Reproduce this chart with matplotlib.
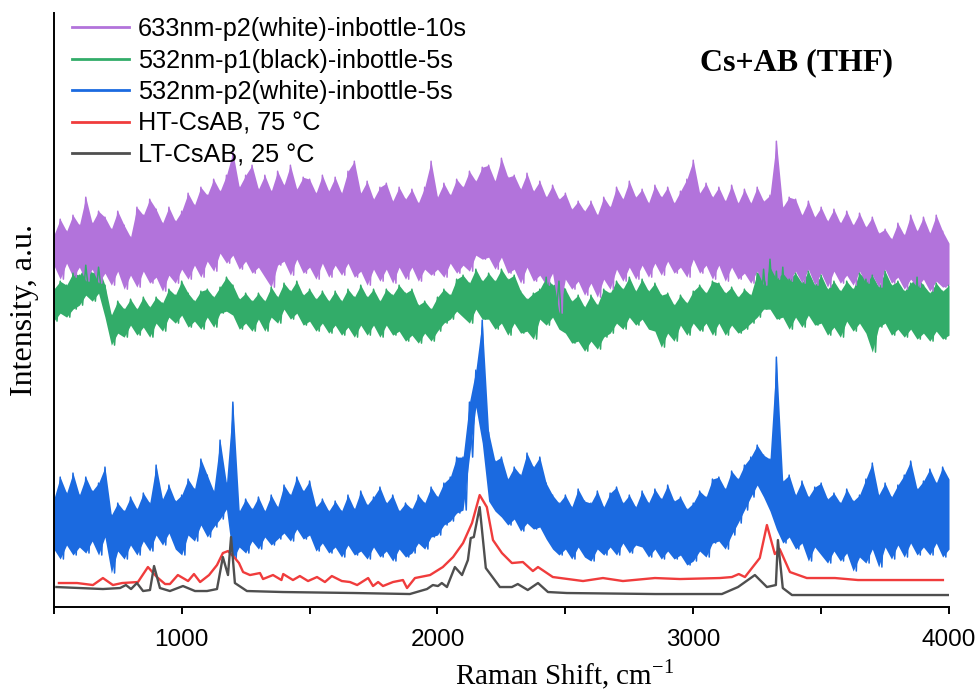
import numpy as np
import matplotlib
matplotlib.use('Agg')
import matplotlib.pyplot as plt
from matplotlib.ticker import MultipleLocator

plt.rcParams['font.family'] = 'Liberation Sans'
plt.rcParams['mathtext.fontset'] = 'custom'
plt.rcParams['mathtext.rm'] = 'Liberation Serif'

# noisy spectra: band top (hi) and bottom (lo) read every 25 cm-1
step = 25
shift = np.arange(500, 4001, step)

blue_hi = [108, 130, 114, 134, 112, 130, 116, 124, 140, 92, 104, 96,
           110, 98, 114, 104, 142, 108, 122, 106, 112, 128, 118, 148,
           132, 116, 167, 124, 205, 96, 108, 98, 110, 96, 112, 100,
           122, 112, 130, 116, 126, 100, 108, 96, 106, 96, 112, 98,
           116, 102, 110, 120, 104, 112, 96, 104, 98, 112, 104, 120,
           110, 124, 130, 150, 150, 205, 237, 287, 175, 146, 150, 128,
           140, 132, 154, 140, 150, 124, 112, 104, 112, 100, 118, 106,
           104, 116, 100, 114, 120, 104, 112, 100, 116, 104, 118, 108,
           122, 106, 110, 98, 104, 116, 110, 128, 130, 118, 136, 128,
           142, 150, 162, 152, 148, 250, 126, 132, 112, 126, 110, 120,
           124, 108, 114, 104, 118, 106, 112, 128, 144, 112, 124, 110,
           122, 132, 146, 118, 126, 138, 124, 140, 128]
blue_lo = [58, 48, 62, 52, 60, 54, 66, 52, 70, 34, 56, 48,
           62, 52, 66, 56, 72, 62, 74, 58, 52, 72, 66, 82,
           70, 80, 88, 98, 48, 60, 54, 66, 58, 70, 62, 68,
           74, 66, 78, 68, 72, 56, 64, 54, 60, 50, 62, 52,
           56, 48, 60, 50, 56, 46, 58, 50, 54, 64, 58, 70,
           72, 82, 86, 94, 97, 150, 200, 164, 106, 96, 90, 82,
           88, 76, 84, 78, 80, 68, 58, 52, 58, 48, 60, 50,
           46, 58, 52, 60, 52, 64, 54, 62, 60, 50, 58, 48,
           56, 48, 52, 42, 46, 56, 50, 64, 66, 58, 72, 84,
           97, 110, 122, 110, 96, 78, 64, 70, 58, 64, 46, 60,
           52, 44, 56, 46, 54, 36, 50, 44, 58, 40, 60, 48,
           62, 50, 64, 52, 60, 52, 64, 50, 58]

green_hi = [318, 326, 322, 334, 332, 342, 334, 340, 322, 292, 306, 298,
            308, 298, 310, 300, 310, 304, 318, 312, 326, 314, 306, 316,
            318, 310, 320, 330, 322, 308, 314, 306, 314, 306, 320, 310,
            324, 316, 326, 312, 318, 308, 316, 306, 316, 306, 318, 310,
            322, 310, 318, 306, 318, 312, 322, 314, 318, 302, 306, 298,
            310, 318, 312, 328, 332, 324, 338, 326, 334, 326, 338, 328,
            332, 316, 308, 314, 318, 330, 322, 326, 318, 306, 312, 300,
            312, 302, 318, 314, 326, 318, 330, 316, 328, 316, 324, 312,
            314, 302, 312, 304, 316, 322, 314, 326, 324, 314, 320, 310,
            318, 312, 334, 338, 348, 336, 340, 328, 334, 324, 336, 322,
            332, 318, 326, 316, 326, 318, 334, 328, 332, 320, 336, 322,
            326, 316, 324, 330, 322, 314, 324, 316, 322]
green_lo = [286, 294, 290, 298, 302, 312, 306, 314, 290, 262, 274, 270,
            282, 272, 280, 270, 284, 276, 290, 284, 292, 280, 286, 278,
            290, 280, 294, 296, 292, 278, 284, 276, 288, 276, 290, 284,
            298, 288, 294, 282, 286, 276, 284, 274, 282, 272, 280, 270,
            282, 272, 282, 270, 282, 272, 276, 266, 272, 264, 274, 266,
            276, 284, 288, 296, 290, 284, 298, 288, 288, 278, 284, 272,
            284, 274, 276, 268, 288, 282, 290, 278, 274, 264, 266, 256,
            266, 258, 270, 274, 284, 278, 290, 282, 288, 278, 276, 260,
            274, 266, 282, 272, 284, 276, 284, 272, 284, 272, 282, 274,
            278, 284, 290, 298, 298, 288, 290, 278, 290, 280, 292, 282,
            284, 272, 280, 270, 286, 276, 284, 274, 255, 280, 284, 272,
            278, 270, 278, 268, 274, 266, 276, 268, 272]

purple_hi = [372, 388, 376, 392, 382, 410, 384, 396, 390, 378, 396, 382,
             370, 400, 392, 408, 398, 384, 400, 386, 396, 414, 402, 420,
             412, 428, 416, 432, 455, 420, 432, 442, 418, 432, 416, 436,
             422, 442, 418, 430, 428, 414, 432, 416, 430, 414, 436, 446,
             414, 426, 408, 420, 424, 406, 420, 408, 418, 404, 420, 446,
             410, 424, 412, 428, 420, 436, 426, 440, 442, 426, 449, 430,
             432, 418, 434, 416, 426, 410, 422, 408, 414, 398, 406, 396,
             406, 392, 410, 400, 420, 408, 426, 410, 418, 404, 422, 410,
             420, 404, 416, 428, 447, 414, 424, 410, 420, 406, 422, 404,
             418, 404, 420, 406, 412, 466, 400, 410, 408, 392, 406, 390,
             400, 386, 398, 384, 396, 382, 394, 380, 390, 374, 378, 368,
             384, 372, 392, 376, 390, 374, 392, 376, 364]
purple_lo = [342, 328, 344, 330, 340, 326, 338, 324, 334, 322, 336, 318,
             332, 320, 336, 324, 330, 316, 332, 324, 338, 328, 342, 330,
             346, 336, 354, 344, 352, 338, 346, 334, 340, 330, 320, 342,
             346, 332, 348, 334, 340, 328, 344, 330, 342, 332, 344, 330,
             336, 322, 338, 326, 338, 324, 340, 328, 340, 326, 338, 332,
             338, 330, 344, 334, 342, 336, 352, 348, 350, 338, 350, 334,
             338, 324, 340, 326, 332, 322, 334, 294, 328, 318, 326, 312,
             324, 310, 328, 318, 338, 326, 340, 328, 342, 330, 344, 332,
             346, 334, 340, 330, 348, 334, 342, 328, 342, 326, 340, 328,
             334, 324, 336, 322, 340, 328, 334, 326, 336, 324, 338, 322,
             334, 320, 336, 324, 332, 322, 336, 324, 332, 320, 338, 324,
             330, 318, 328, 320, 328, 316, 326, 320, 322]

# smooth reference spectra
lt_x = [510, 692, 759, 782, 802, 825, 849, 876, 892, 915, 954, 1005, 1052,
        1099, 1138, 1161, 1181, 1193, 1208, 1255, 1396, 1677, 1892, 1959,
        1982, 2002, 2017, 2037, 2068, 2096, 2119, 2130, 2142, 2165, 2189,
        2244, 2291, 2314, 2353, 2393, 2432, 2506, 2850, 3112, 3175, 3241,
        3288, 3323, 3331, 3350, 3386, 3996]
lt_y = [20, 18, 19, 22, 18, 24, 16, 17, 41, 19, 16, 21, 16,
        16, 18, 50, 32, 70, 24, 16, 15, 14, 13, 18,
        22, 21, 24, 20, 40, 32, 47, 69, 70, 100, 39,
        20, 20, 23, 17, 24, 15, 14, 13, 13, 20, 32,
        20, 22, 67, 19, 12, 12]

ht_x = [520, 591, 653, 692, 731, 767, 829, 868, 903, 935, 954, 985, 1025,
        1048, 1072, 1107, 1138, 1161, 1181, 1208, 1224, 1240, 1267, 1306,
        1318, 1357, 1390, 1397, 1435, 1462, 1494, 1529, 1560, 1587, 1626,
        1658, 1686, 1729, 1748, 1768, 1787, 1826, 1865, 1881, 1912, 1971,
        2021, 2061, 2100, 2135, 2165, 2193, 2217, 2252, 2291, 2334, 2373,
        2393, 2451, 2569, 2647, 2725, 2850, 2948, 3104, 3151, 3178, 3202,
        3260, 3288, 3319, 3338, 3378, 3444, 3554, 3644, 3976]
ht_y = [24, 24, 22, 29, 22, 24, 25, 40, 30, 23, 23, 32, 26,
        33, 25, 32, 42, 54, 56, 49, 44, 35, 32, 34,
        28, 32, 27, 33, 27, 31, 26, 30, 25, 31, 26,
        25, 22, 29, 21, 25, 21, 25, 27, 19, 29, 32,
        40, 50, 64, 84, 112, 100, 67, 54, 44, 45, 36,
        40, 30, 26, 29, 26, 29, 28, 29, 30, 33, 30,
        49, 82, 53, 58, 35, 29, 29, 27, 27]

labels = ['633nm-p2(white)-inbottle-10s', '532nm-p1(black)-inbottle-5s',
          '532nm-p2(white)-inbottle-5s', 'HT-CsAB, 75 \u00b0C', 'LT-CsAB, 25 \u00b0C']
colors = ['#b273db', '#32ac69', '#1b6ae0', '#f03c3c', '#4f4f4f']


def zigzag(hi, lo):
    xs = np.column_stack([shift, shift + step / 2]).ravel()
    ys = np.column_stack([hi, lo]).ravel()
    return xs, ys


fig = plt.figure(figsize=(9.8, 6.92), dpi=100)
ax = fig.add_axes([0.0549, 0.1228, 0.9135, 0.858])

lines = {}
for name, hi, lo, c, lab in [('green', green_hi, green_lo, colors[1], labels[1]),
                             ('purple', purple_hi, purple_lo, colors[0], labels[0]),
                             ('blue', blue_hi, blue_lo, colors[2], labels[2])]:
    ax.fill_between(shift, lo, hi, color=c, lw=0)
    xs, ys = zigzag(hi, lo)
    lines[name], = ax.plot(xs, ys, color=c, lw=1.1, label=lab)

lines['red'], = ax.plot(ht_x, ht_y, color=colors[3], lw=1.7, label=labels[3])
lines['gray'], = ax.plot(lt_x, lt_y, color=colors[4], lw=1.7, label=labels[4])

ax.set_xlim(500, 4000)
ax.set_ylim(0, 594)
ax.set_yticks([])
ax.xaxis.set_major_locator(MultipleLocator(1000))
ax.xaxis.set_minor_locator(MultipleLocator(500))
ax.tick_params(axis='x', which='both', direction='out', length=5, width=1.4,
               labelsize=17.5, pad=11)
for s in ['top', 'right']:
    ax.spines[s].set_visible(False)
for s in ['left', 'bottom']:
    ax.spines[s].set_linewidth(1.4)

ax.set_xlabel('Raman Shift, cm$^{\\mathrm{-1}}$', family='Liberation Serif', size=21)
ax.set_ylabel('Intensity, a.u.', family='Liberation Serif', size=23)
ax.xaxis.set_label_coords(0.571, -0.085)
ax.yaxis.set_label_coords(-0.016, 0.5)

fig.text(796 / 980, 1 - 63 / 692, 'Cs+AB (THF)', ha='center', va='center',
         family='Liberation Serif', weight='bold', size=23)

order = ['purple', 'green', 'blue', 'red', 'gray']
leg = ax.legend([lines[k] for k in order], labels, loc='upper left',
                bbox_to_anchor=(72 / 980, 1 - 17 / 692), bbox_transform=fig.transFigure,
                frameon=False, fontsize=18.2, handlelength=2.25, handletextpad=0.35,
                labelspacing=0.3, borderpad=0, borderaxespad=0)
for h in leg.legend_handles:
    h.set_linewidth(2)

fig.savefig('out.png', dpi=100)
